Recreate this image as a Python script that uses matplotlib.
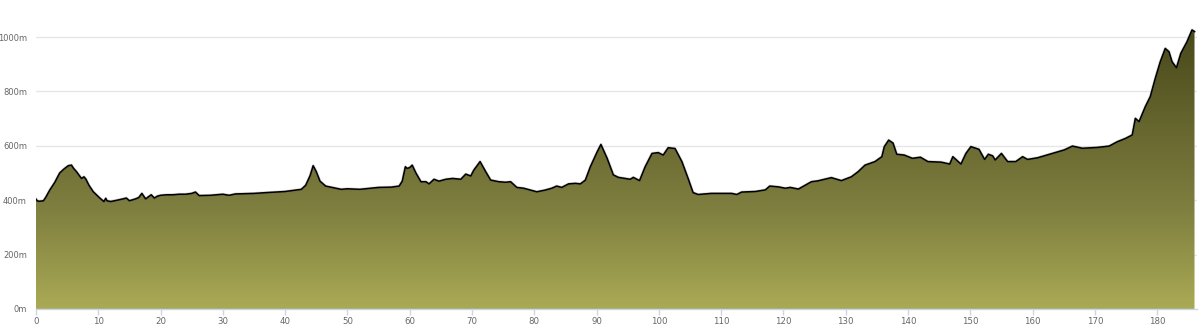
import numpy as np
import matplotlib
matplotlib.use("Agg")
import matplotlib.pyplot as plt
from matplotlib.colors import LinearSegmentedColormap
from matplotlib.patches import Polygon

# distance (km) and elevation (m)
km = [0, 0.2, 0.5, 1.2, 1.6, 2.2, 3.0, 3.8, 4.5, 5.2,
      5.7, 6.0, 6.5, 7.3, 7.7, 8.0, 8.5, 9.2, 10.25, 10.9,
      11.2, 11.4, 12.0, 13.0, 14.0, 14.5, 15.0, 16.0, 16.5, 17.0,
      17.4, 17.6, 18.5, 19.0, 19.5, 20.0, 21.0, 22.0, 23.0, 24.0,
      25.0, 25.6, 26.2, 28.0, 30.0, 31.0, 32.0, 35.0, 37.0, 40.0,
      42.0, 42.6, 43.3, 44.0, 44.5, 45.0, 45.6, 46.5, 48.0, 49.0,
      50.0, 52.0, 55.0, 57.0, 58.3, 58.8, 59.3, 59.6, 60.0, 60.4,
      61.0, 61.8, 62.6, 63.1, 63.9, 64.7, 65.8, 66.9, 68.2, 69.0,
      69.8, 70.3, 71.3, 72.2, 73.0, 74.3, 75.4, 76.2, 77.2, 78.3,
      79.4, 80.4, 81.7, 82.8, 83.6, 84.4, 85.5, 86.6, 87.4, 88.2,
      89.0, 90.1, 90.7, 91.7, 92.7, 93.5, 94.6, 95.4, 95.9, 96.9,
      97.8, 98.9, 99.9, 100.7, 101.5, 102.6, 103.7, 104.7, 105.5, 106.3,
      108.4, 111.7, 112.5, 113.3, 115.5, 117.1, 117.8, 119.2, 120.3, 121.1,
      122.4, 124.5, 125.5, 127.7, 129.3, 130.9, 132.0, 133.1, 134.7, 135.8,
      136.2, 136.9, 137.6, 138.2, 139.4, 140.7, 142.0, 143.2, 145.3, 146.7,
      147.2, 148.5, 149.3, 150.1, 151.4, 152.3, 152.9, 153.6, 154.0, 155.0,
      156.0, 157.3, 158.4, 159.2, 160.8, 162.9, 165.1, 166.4, 168.0, 170.4,
      172.3, 173.6, 174.9, 176.0, 176.5, 177.1, 178.1, 178.9, 179.7, 180.5,
      181.3, 181.9, 182.4, 183.1, 183.8, 184.8, 185.6, 186.0]

elevation = [404, 398, 396, 398, 412, 437, 465, 500, 515, 527,
             529, 518, 505, 480, 486, 478, 455, 431, 408, 395,
             407, 398, 395, 400, 405, 408, 398, 405, 410, 425,
             412, 405, 420, 408, 415, 418, 420, 420, 422, 422,
             425, 430, 417, 418, 422, 418, 423, 425, 428, 432,
             438, 440, 455, 490, 527, 505, 470, 452, 445, 440,
             442, 440, 447, 448, 452, 470, 523, 517, 520, 529,
             500, 468, 468, 460, 477, 470, 477, 480, 477, 496,
             489, 511, 542, 505, 474, 468, 466, 468, 447, 444,
             437, 431, 437, 444, 452, 447, 460, 462, 460, 474,
             523, 578, 605, 554, 493, 484, 480, 477, 484, 472,
             523, 572, 575, 566, 593, 590, 542, 480, 428, 421,
             425, 425, 421, 430, 432, 438, 452, 449, 444, 447,
             441, 468, 471, 483, 472, 486, 505, 529, 542, 560,
             597, 621, 610, 569, 566, 554, 558, 542, 540, 533,
             560, 533, 572, 597, 587, 550, 569, 563, 548, 572,
             542, 542, 560, 550, 556, 570, 585, 599, 591, 594,
             599, 615, 627, 640, 701, 689, 744, 781, 848, 909,
             958, 946, 909, 887, 940, 983, 1026, 1020]

x_ticks = list(range(0, 190, 10))
y_ticks = [0, 200, 400, 600, 800, 1000]
y_tick_labels = [f"{v}m" for v in y_ticks]

W, H = 1200, 328
fig = plt.figure(figsize=(W / 100, H / 100), dpi=100)
ax = fig.add_axes([36 / W, 19 / H, 1161 / W, (309 - 9.8) / H])
x_max = 186.4
y_max = 1100
ax.set_xlim(0, x_max)
ax.set_ylim(0, y_max)

# grid
for v in y_ticks[1:]:
    ax.axhline(v, color="#e6e6e6", lw=1, zorder=0)

# gradient fill clipped to the profile
cmap = LinearSegmentedColormap.from_list(
    "prof",
    [(0, "#aaaa55"), (364 / y_max, "#7f7f40"), (1030 / y_max, "#48481a"), (1, "#404015")],
)
grad = np.linspace(0, 1, 512).reshape(-1, 1)
im = ax.imshow(grad, extent=[0, x_max, 0, y_max], origin="lower", aspect="auto",
               cmap=cmap, vmin=0, vmax=1, zorder=1, interpolation="bilinear")
verts = list(zip(km, elevation)) + [(km[-1], 0), (km[0], 0)]
patch = Polygon(verts, closed=True, fc="none", ec="none", transform=ax.transData)
ax.add_patch(patch)
im.set_clip_path(patch)

# outline
ax.plot(km, elevation, color="#555555", lw=2.0, alpha=0.25, zorder=2, solid_joinstyle="round")
ax.plot(km, elevation, color="black", lw=1.1, zorder=3, solid_joinstyle="round")

for s in ["top", "right", "left"]:
    ax.spines[s].set_visible(False)
ax.spines["bottom"].set_color("#ccd6eb")
ax.spines["bottom"].set_linewidth(1)
ax.spines["bottom"].set_zorder(4)

ax.set_xticks(x_ticks)
ax.set_xticklabels([str(t) for t in x_ticks])
ax.set_yticks(y_ticks)
ax.set_yticklabels(y_tick_labels)
ax.tick_params(axis="x", length=4, width=1, color="#ccd6eb", labelcolor="#666666",
               labelsize=6.2, pad=1.5)
ax.tick_params(axis="y", length=0, labelcolor="#666666", labelsize=6.0, pad=6.5)

fig.savefig("out.png", dpi=100, facecolor="white")
